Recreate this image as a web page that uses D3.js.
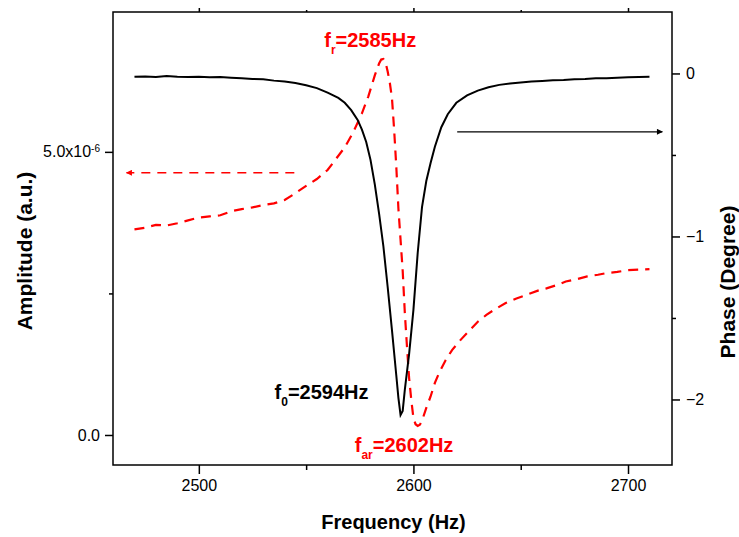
<!DOCTYPE html>
<html><head><meta charset="utf-8">
<script src="https://cdn.jsdelivr.net/npm/d3@7"></script>
<style>
body{margin:0;background:#fff;}
svg{display:block;font-family:"Liberation Sans",Arial,sans-serif;}
</style>
</head><body>
<svg id="chart" width="739" height="537"></svg>
<script>
// Amplitude spectrum (units of 1e-6, a.u.) — red dashed curve
const ampFreq = [2470,2475,2480,2485,2490,2495,2500,2505,2510,2515,2520,2525,2530,2535,2540,2545,2550,2555,2560,2564,2568,2572,2576,2579,2582,2584,2585,2586,2587,2588,2589,2590,2591,2592,2593,2594,2595,2596,2597,2598,2599,2600,2601,2602,2603,2604,2606,2608,2610,2612,2615,2618,2622,2626,2630,2634,2638,2643,2648,2653,2658,2662,2667,2671,2676,2681,2686,2690,2695,2700,2705,2710];
const amplitude = [3.63,3.66,3.71,3.70,3.74,3.79,3.84,3.86,3.88,3.95,3.99,4.02,4.06,4.09,4.15,4.27,4.40,4.52,4.68,4.88,5.08,5.35,5.68,5.98,6.35,6.56,6.63,6.64,6.58,6.42,6.22,5.95,5.40,4.75,4.00,3.45,2.90,2.15,1.56,1.00,0.62,0.30,0.19,0.16,0.18,0.25,0.48,0.68,0.92,1.10,1.32,1.50,1.68,1.84,2.00,2.12,2.22,2.33,2.41,2.48,2.55,2.59,2.65,2.71,2.75,2.80,2.83,2.86,2.88,2.91,2.92,2.93];

// Phase response (degree) — black solid curve
const phaseFreq = [2470,2475,2480,2485,2490,2495,2500,2505,2510,2515,2520,2525,2530,2535,2540,2545,2550,2555,2560,2565,2568,2571,2574,2576,2578,2580,2582,2584,2586,2588,2590,2592,2593,2594,2595,2596,2598,2600,2602,2604,2606,2608,2610,2613,2616,2620,2625,2630,2635,2640,2645,2650,2655,2660,2665,2670,2675,2680,2685,2690,2695,2700,2705,2710];
const phase = [-0.020,-0.018,-0.022,-0.016,-0.020,-0.022,-0.020,-0.024,-0.022,-0.026,-0.030,-0.034,-0.036,-0.044,-0.050,-0.058,-0.072,-0.090,-0.118,-0.150,-0.180,-0.225,-0.285,-0.345,-0.420,-0.530,-0.680,-0.860,-1.060,-1.310,-1.575,-1.850,-1.990,-2.095,-2.070,-1.940,-1.720,-1.450,-1.100,-0.820,-0.660,-0.550,-0.450,-0.330,-0.250,-0.180,-0.135,-0.105,-0.085,-0.070,-0.062,-0.055,-0.050,-0.046,-0.042,-0.040,-0.036,-0.034,-0.030,-0.030,-0.026,-0.024,-0.022,-0.020];

// Axis ticks
const xMajor = [2500,2600,2700];
const xMinor = [2550,2650];
const ampMajor = [0,5];
const ampMinor = [2.5];
const ampLabels = ["0.0","5.0x10"];
const phaseMajor = [0,-1,-2];
const phaseMinor = [-0.5,-1.5];

// Marked frequencies
const fr = 2585, f0 = 2594, far = 2602;

const svg = d3.select("#chart");
const L = 113, R = 672, T = 12, B = 465;

const x = d3.scaleLinear().domain([2460, 2720.5]).range([L, R]);
const yA = d3.scaleLinear().domain([-0.53, 7.47]).range([B, T]);
const yP = d3.scaleLinear().domain([-2.402, 0.377]).range([B, T]);

// frame
svg.append("rect").attr("x", L).attr("y", T).attr("width", R - L).attr("height", B - T)
  .attr("fill", "none").attr("stroke", "#000").attr("stroke-width", 1.5);

// bottom axis
const gx = svg.append("g").attr("transform", `translate(0,${B})`);
gx.call(d3.axisBottom(x).tickValues(xMajor).tickSize(9).tickPadding(6).tickFormat(d3.format("d")));
gx.append("g").call(d3.axisBottom(x).tickValues(xMinor).tickSize(5).tickFormat(""));
// top axis (no labels)
const gt = svg.append("g").attr("transform", `translate(0,${T})`);
gt.call(d3.axisTop(x).tickValues(xMajor).tickSize(4).tickFormat(""));
gt.append("g").call(d3.axisTop(x).tickValues(xMinor).tickSize(2).tickFormat(""));

// left axis
const gl = svg.append("g").attr("transform", `translate(${L},0)`);
gl.call(d3.axisLeft(yA).tickValues(ampMajor).tickSize(8).tickPadding(5).tickFormat((d, i) => ampLabels[i]));
gl.append("g").call(d3.axisLeft(yA).tickValues(ampMinor).tickSize(4).tickFormat(""));
// exponent on 5.0x10
gl.selectAll(".tick text").filter(d => d === 5).append("tspan")
  .attr("dy", "-0.55em").attr("font-size", "10px").text("-6");

// right axis
const gr = svg.append("g").attr("transform", `translate(${R},0)`);
gr.call(d3.axisRight(yP).tickValues(phaseMajor).tickSize(8).tickPadding(6).tickFormat(d3.format("d")));
gr.append("g").call(d3.axisRight(yP).tickValues(phaseMinor).tickSize(4).tickFormat(""));

svg.selectAll(".domain").remove();
svg.selectAll(".tick line").attr("stroke", "#000").attr("stroke-width", 1.5);
svg.selectAll(".tick text").attr("font-size", "16px").attr("fill", "#000")
  .attr("font-family", "'Liberation Sans', Arial, sans-serif");

// axis titles
svg.append("text").attr("x", (L + R) / 2 + 1).attr("y", 529).attr("text-anchor", "middle")
  .attr("font-size", "20px").attr("font-weight", "bold").text("Frequency (Hz)");
svg.append("text").attr("transform", "translate(32,251) rotate(-90)").attr("text-anchor", "middle")
  .attr("font-size", "21px").attr("font-weight", "bold").text("Amplitude (a.u.)");
svg.append("text").attr("transform", "translate(735,282) rotate(-90)").attr("text-anchor", "middle")
  .attr("font-size", "21px").attr("font-weight", "bold").text("Phase (Degree)");

// curves
const ampLine = d3.line().x(i => x(ampFreq[i])).y(i => yA(amplitude[i]));
svg.append("path").attr("d", ampLine(d3.range(ampFreq.length)))
  .attr("fill", "none").attr("stroke", "#ff0000").attr("stroke-width", 2.2)
  .attr("stroke-dasharray", "10,7");

const phaseLine = d3.line().x(i => x(phaseFreq[i])).y(i => yP(phase[i]));
svg.append("path").attr("d", phaseLine(d3.range(phaseFreq.length)))
  .attr("fill", "none").attr("stroke", "#000").attr("stroke-width", 2);

// arrows pointing to each curve's axis
const defs = svg.append("defs");
function marker(id, color) {
  defs.append("marker").attr("id", id).attr("viewBox", "0 0 10 10").attr("refX", 9).attr("refY", 5)
    .attr("markerWidth", 10).attr("markerHeight", 6).attr("markerUnits", "userSpaceOnUse")
    .attr("orient", "auto")
    .append("path").attr("d", "M0,0 L10,5 L0,10 Z").attr("fill", color);
}
marker("headRed", "#ff0000");
marker("headBlack", "#000");

svg.append("line").attr("x1", x(2544.5)).attr("x2", x(2466.3))
  .attr("y1", yA(4.63)).attr("y2", yA(4.63))
  .attr("stroke", "#ff0000").attr("stroke-width", 1.6).attr("stroke-dasharray", "9,7")
  .attr("marker-end", "url(#headRed)");
svg.append("line").attr("x1", x(2620.4)).attr("x2", x(2716))
  .attr("y1", yP(-0.358)).attr("y2", yP(-0.358))
  .attr("stroke", "#000").attr("stroke-width", 1.3)
  .attr("marker-end", "url(#headBlack)");

// frequency annotations
function note(px, py, color, sub, val) {
  const t = svg.append("text").attr("x", px).attr("y", py).attr("fill", color)
    .attr("font-size", "20px").attr("font-weight", "bold");
  t.append("tspan").text("f");
  t.append("tspan").attr("dy", 7).attr("font-size", "12px").text(sub);
  t.append("tspan").attr("dy", -7).text("=" + val + "Hz");
}
note(x(fr) - 57, 47, "#ff0000", "r", fr);
note(x(f0) - 126, 399, "#000", "0", f0);
note(x(far) - 63, 452, "#ff0000", "ar", far);
</script>
</body></html>
